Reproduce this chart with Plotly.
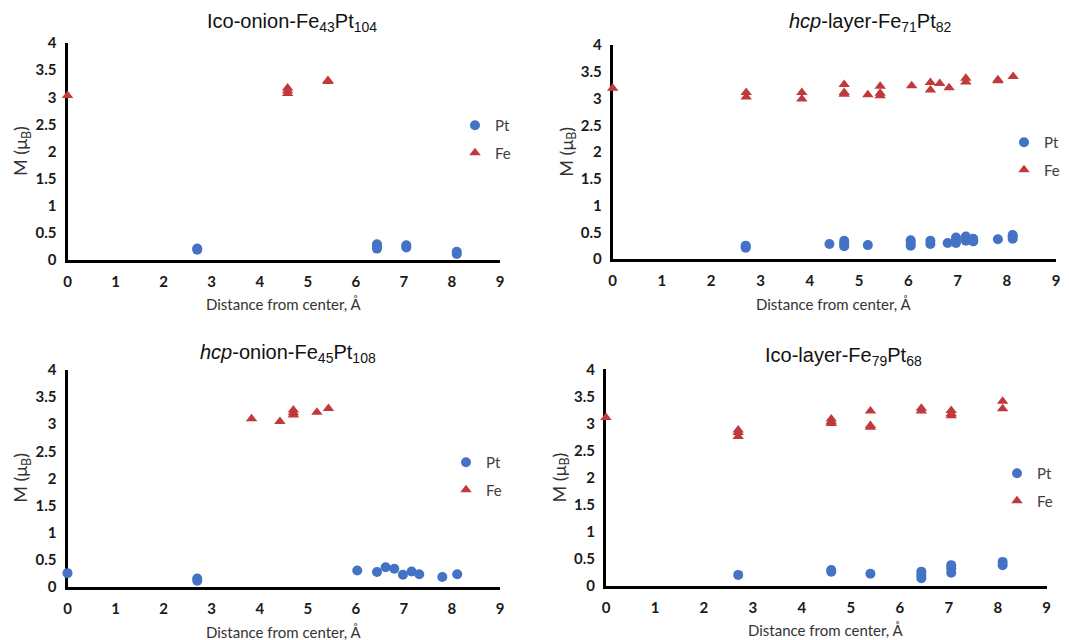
import plotly.graph_objects as go

# ---------------- data ----------------
titles = [
    "Ico-onion-Fe<sub>43</sub>Pt<sub>104</sub>",
    "<i>hcp</i>-layer-Fe<sub>71</sub>Pt<sub>82</sub>",
    "<i>hcp</i>-onion-Fe<sub>45</sub>Pt<sub>108</sub>",
    "Ico-layer-Fe<sub>79</sub>Pt<sub>68</sub>",
]

# Panel 1: Ico-onion
p1_pt_x = [2.70, 2.70, 6.44, 6.44, 6.44, 7.05, 7.05, 8.10, 8.10]
p1_pt_y = [0.19, 0.21, 0.21, 0.25, 0.29, 0.23, 0.27, 0.11, 0.15]
p1_fe_x = [0.00, 4.58, 4.58, 4.58, 5.42, 5.42]
p1_fe_y = [3.03, 3.07, 3.12, 3.17, 3.29, 3.31]

# Panel 2: hcp-layer
p2_pt_x = [2.70, 2.70, 2.70, 4.40, 4.70, 4.70, 4.70, 5.18, 6.05, 6.05, 6.05,
           6.45, 6.45, 6.80, 6.97, 6.97, 6.97, 7.17, 7.17, 7.32, 7.32, 7.82,
           8.12, 8.12, 8.12]
p2_pt_y = [0.21, 0.23, 0.25, 0.28, 0.24, 0.29, 0.34, 0.26, 0.25, 0.30, 0.35,
           0.28, 0.34, 0.30, 0.30, 0.36, 0.40, 0.34, 0.42, 0.33, 0.38, 0.37,
           0.38, 0.42, 0.45]
p2_fe_x = [0.00, 2.71, 2.71, 3.84, 3.84, 4.70, 4.70, 4.70, 5.18, 5.43, 5.43,
           5.43, 6.07, 6.45, 6.45, 6.64, 6.83, 7.17, 7.17, 7.82, 7.82, 8.13]
p2_fe_y = [3.19, 3.03, 3.11, 2.99, 3.11, 3.08, 3.11, 3.26, 3.07, 3.05, 3.10,
           3.23, 3.24, 3.16, 3.30, 3.28, 3.20, 3.31, 3.38, 3.33, 3.35, 3.41]

# Panel 3: hcp-onion
p3_pt_x = [0.00, 2.70, 2.70, 6.03, 6.44, 6.62, 6.80, 6.98, 7.16, 7.32, 7.80, 8.11]
p3_pt_y = [0.25, 0.11, 0.15, 0.30, 0.27, 0.36, 0.33, 0.22, 0.28, 0.23, 0.18, 0.23]
p3_fe_x = [3.83, 4.42, 4.70, 4.70, 4.70, 5.19, 5.43]
p3_fe_y = [3.10, 3.05, 3.17, 3.21, 3.26, 3.22, 3.29]

# Panel 4: Ico-layer
p4_pt_x = [2.70, 4.60, 4.60, 5.40, 6.44, 6.44, 6.44, 7.05, 7.05, 7.05, 8.10, 8.10]
p4_pt_y = [0.20, 0.26, 0.29, 0.22, 0.14, 0.20, 0.26, 0.24, 0.32, 0.38, 0.38, 0.44]
p4_fe_x = [0.00, 2.70, 2.70, 2.70, 4.60, 4.60, 4.60, 5.40, 5.40, 5.40, 6.44,
           6.44, 7.05, 7.05, 7.05, 8.10, 8.10]
p4_fe_y = [3.11, 2.76, 2.83, 2.88, 3.00, 3.03, 3.08, 2.93, 2.96, 3.23, 3.23,
           3.28, 3.14, 3.18, 3.24, 3.27, 3.41]

panels = [
    (p1_pt_x, p1_pt_y, p1_fe_x, p1_fe_y),
    (p2_pt_x, p2_pt_y, p2_fe_x, p2_fe_y),
    (p3_pt_x, p3_pt_y, p3_fe_x, p3_fe_y),
    (p4_pt_x, p4_pt_y, p4_fe_x, p4_fe_y),
]

x_ticks = [0, 1, 2, 3, 4, 5, 6, 7, 8, 9]
y_ticks = [0, 0.5, 1, 1.5, 2, 2.5, 3, 3.5, 4]
y_tick_labels = ["0", "0.5", "1", "1.5", "2", "2.5", "3", "3.5", "4"]
x_title = "Distance from center, Å"
y_title = "M (μ<sub>B</sub>)"

# ---------------- layout geometry (window pixels) ----------------
OFF = 8                      # default page margin of the html body
W, H = 1069 - OFF, 640 - OFF  # figure size so it ends at the window edge
# (left, right, top, bottom) of each plot area in window pixels
boxes = [
    (67.5, 500.0, 43.0, 260.0),
    (612.7, 1056.0, 45.0, 259.0),
    (67.5, 500.0, 370.0, 586.7),
    (606.0, 1046.7, 369.3, 585.7),
]
title_pos = [(292, 22), (870, 22), (288, 353), (843, 357)]
x_title_y = [304, 304, 632, 630]
# legend marker (Pt) centre positions
legend_pos = [(475, 125), (1024, 142), (466, 462), (1017, 473)]


def fx(px):
    return (px - OFF) / W


def fy(py):
    return 1 - (py - OFF) / H


PT_COLOR = "#4472C4"
FE_COLOR = "#C0393B"
TICK_FONT = dict(family="Lato, Liberation Sans, sans-serif", size=15, color="#1a1a1a")
LABEL_FONT = dict(family="Lato, Liberation Sans, sans-serif", size=15, color="#333333")
YLABEL_FONT = dict(family="Lato, Liberation Sans, sans-serif", size=18, color="#333333")
TITLE_FONT = dict(family="Liberation Sans, Arial, sans-serif", size=20, color="#111111")

fig = go.Figure()
annotations = []
layout_axes = {}

for i, (ptx, pty, fex, fey) in enumerate(panels):
    n = i + 1
    xa = "x" if n == 1 else f"x{n}"
    ya = "y" if n == 1 else f"y{n}"
    lg = "legend" if n == 1 else f"legend{n}"
    fig.add_trace(go.Scatter(
        x=ptx, y=pty, mode="markers", name="Pt", xaxis=xa, yaxis=ya,
        legend=lg, legendgroup=f"pt{n}", cliponaxis=False,
        marker=dict(symbol="circle", size=10, color=PT_COLOR),
    ))
    fig.add_trace(go.Scatter(
        x=fex, y=fey, mode="markers", name="Fe", xaxis=xa, yaxis=ya,
        legend=lg, legendgroup=f"fe{n}", cliponaxis=False,
        marker=dict(symbol="triangle-up", size=10, color=FE_COLOR),
    ))

    l, r, t, b = boxes[i]
    xkey = "xaxis" if n == 1 else f"xaxis{n}"
    ykey = "yaxis" if n == 1 else f"yaxis{n}"
    layout_axes[xkey] = dict(
        domain=[fx(l), fx(r)], range=[0, 9], anchor=ya,
        tickvals=x_ticks, ticktext=[f"<b>{v}</b>" for v in x_ticks],
        tickfont=TICK_FONT, showgrid=False, zeroline=False,
        showline=True, linecolor="black", linewidth=3, ticks="",
        ticklabelstandoff=6, layer="below traces",
    )
    layout_axes[ykey] = dict(
        domain=[fy(b), fy(t)], range=[0, 4], anchor=xa,
        tickvals=y_ticks, ticktext=[f"<b>{s}</b>" for s in y_tick_labels],
        tickfont=TICK_FONT, showgrid=False, zeroline=False,
        showline=True, linecolor="black", linewidth=3, ticks="",
        ticklabelstandoff=5, layer="below traces",
    )

    # panel title
    tx, ty = title_pos[i]
    annotations.append(dict(
        text=titles[i], x=fx(tx), y=fy(ty), xref="paper", yref="paper",
        showarrow=False, font=TITLE_FONT, xanchor="center", yanchor="middle",
    ))
    # x axis title
    annotations.append(dict(
        text=x_title, x=fx((l + r) / 2), y=fy(x_title_y[i]),
        xref="paper", yref="paper", showarrow=False, font=LABEL_FONT,
        xanchor="center", yanchor="middle",
    ))
    # y axis title
    annotations.append(dict(
        text=y_title, x=fx(l - 46), y=fy((t + b) / 2),
        xref="paper", yref="paper", showarrow=False, font=YLABEL_FONT,
        xanchor="center", yanchor="middle", textangle=-90,
    ))

    # legend (offset so that the symbol lands on the reference spot)
    lx, ly = legend_pos[i]
    lkey = "legend" if n == 1 else f"legend{n}"
    layout_axes[lkey] = dict(
        x=fx(lx - 20), y=fy(ly - 16), xanchor="left", yanchor="top",
        bgcolor="rgba(0,0,0,0)", font=dict(family="Lato, Liberation Sans, sans-serif",
                                           size=15, color="#404040"),
        traceorder="grouped", tracegroupgap=5, itemwidth=30,
    )

fig.update_layout(
    width=W, height=H,
    margin=dict(l=0, r=0, t=0, b=0, autoexpand=False),
    paper_bgcolor="white", plot_bgcolor="white",
    showlegend=True,
    annotations=annotations,
    **layout_axes,
)

fig.write_html("out.html")
